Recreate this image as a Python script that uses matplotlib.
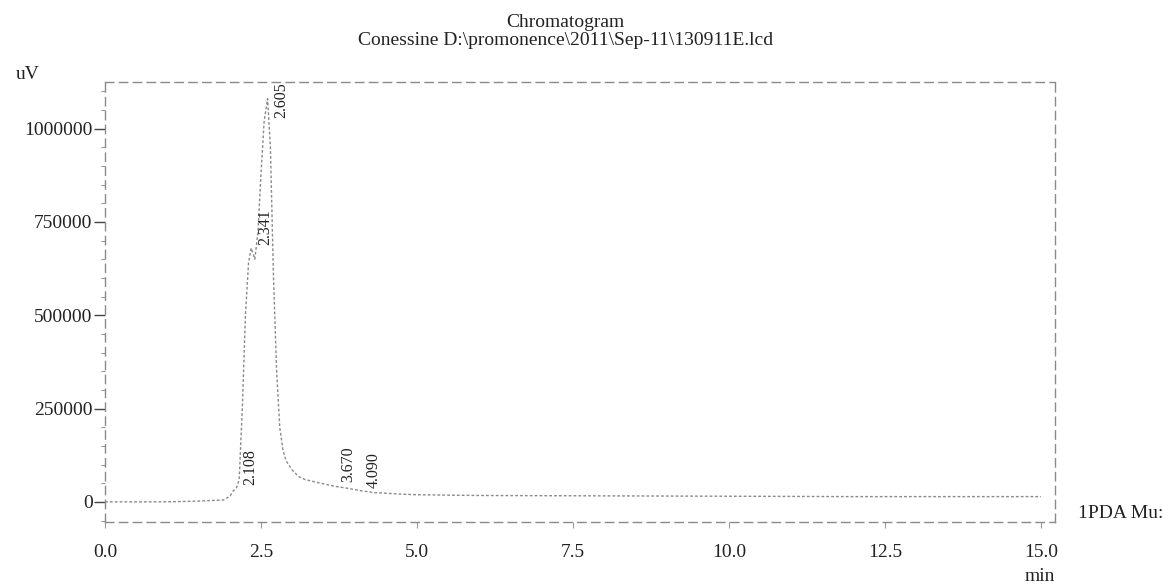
import matplotlib.pyplot as plt
from matplotlib.ticker import MultipleLocator

plt.rcParams['font.family'] = ['Liberation Serif', 'DejaVu Serif']

# signal (time in min, intensity in uV)
time_min = [0.0, 0.5, 1.0, 1.5, 1.9, 2.0, 2.05, 2.108, 2.15, 2.2, 2.25, 2.3,
            2.341, 2.4, 2.45, 2.5, 2.55, 2.605, 2.65, 2.7, 2.75, 2.8, 2.85,
            2.9, 3.0, 3.1, 3.2, 3.4, 3.67, 3.9, 4.09, 4.3, 4.7, 5.0, 6.0,
            8.0, 10.0, 12.0, 14.0, 15.0]
signal_uv = [0, 0, 0, 2000, 5000, 15000, 28000, 38000, 60000, 250000, 500000,
             640000, 680000, 650000, 720000, 880000, 1020000, 1080000, 950000,
             600000, 350000, 200000, 140000, 110000, 85000, 68000, 60000,
             52000, 42000, 36000, 30000, 25000, 21000, 19000, 17000, 16000,
             15000, 14000, 14000, 14000]

peak_times = [2.108, 2.341, 2.605, 3.670, 4.090]
peak_heights = [38000, 680000, 1020000, 45000, 30000]
peak_labels = ['2.108', '2.341', '2.605', '3.670', '4.090']

xticks = [0.0, 2.5, 5.0, 7.5, 10.0, 12.5, 15.0]
yticks = [0, 250000, 500000, 750000, 1000000]

fig = plt.figure(figsize=(11.71, 5.85), dpi=100)
ax = fig.add_axes([0.0897, 0.1077, 0.811, 0.7523])

ax.plot(time_min, signal_uv, color='#8a8a8a', lw=1.0, ls=(0, (2, 1.5)))

for t, h, lab in zip(peak_times, peak_heights, peak_labels):
    ax.annotate(lab, (t, h), xytext=(10, 2), textcoords='offset points',
                rotation=90, ha='center', va='bottom', fontsize=11.5,
                color='#222222')

ax.set_xlim(0, 15.22)
ax.set_ylim(-54000, 1125000)
ax.set_xticks(xticks)
ax.set_xticklabels([f'{v:.1f}' for v in xticks])
ax.set_yticks(yticks)
ax.set_yticklabels([str(v) for v in yticks])
ax.yaxis.set_minor_locator(MultipleLocator(50000))
ax.xaxis.set_minor_locator(MultipleLocator(0.5))

ax.tick_params(axis='y', which='major', length=8, width=1, color='#444444',
               labelsize=14, labelcolor='#222222', pad=1)
ax.tick_params(axis='y', which='minor', length=3, width=0.8, color='#999999')
ax.tick_params(axis='x', which='major', length=4, width=0.8, color='#999999',
               labelsize=14, labelcolor='#222222', pad=12)
ax.tick_params(axis='x', which='minor', length=0)

for side in ['top', 'bottom', 'left', 'right']:
    ax.spines[side].set_color('#8a8a8a')
    ax.spines[side].set_linewidth(1.0)
    ax.spines[side].set_linestyle((0, (6, 4)))

fig.text(0.483, 0.962, 'Chromatogram', ha='center', va='center', fontsize=14,
         color='#222222')
fig.text(0.483, 0.93, 'Conessine D:\\promonence\\2011\\Sep-11\\130911E.lcd',
         ha='center', va='center', fontsize=14, color='#222222')
fig.text(0.024, 0.872, 'uV', ha='center', va='center', fontsize=14,
         color='#222222')
fig.text(0.888, 0.014, 'min', ha='center', va='center', fontsize=14,
         color='#222222')
fig.text(0.921, 0.123, '1PDA Mu:', ha='left', va='center', fontsize=14,
         color='#222222')

fig.savefig('out.png', dpi=100)
